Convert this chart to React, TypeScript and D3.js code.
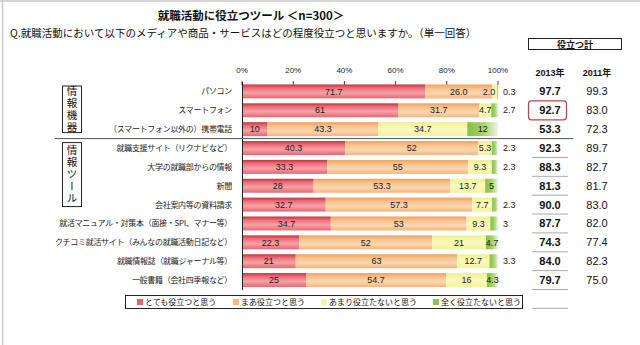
import React from 'react';
import * as d3 from 'd3';

const categories = [
  'パソコン',
  'スマートフォン',
  '（スマートフォン以外の）携帯電話',
  '就職支援サイト（リクナビなど）',
  '大学の就職部からの情報',
  '新聞',
  '会社案内等の資料請求',
  '就活マニュアル・対策本（面接・SPI、マナー等）',
  'クチコミ就活サイト（みんなの就職活動日記など）',
  '就職情報誌（就職ジャーナル等）',
  '一般書籍（会社四季報など）',
];

const veryUseful = ['71.7', '61', '10', '40.3', '33.3', '28', '32.7', '34.7', '22.3', '21', '25'];
const somewhatUseful = ['26.0', '31.7', '43.3', '52', '55', '53.3', '57.3', '53', '52', '63', '54.7'];
const notVeryUseful = ['2.0', '4.7', '34.7', '5.3', '9.3', '13.7', '7.7', '9.3', '21', '12.7', '16'];
const notAtAllUseful = ['0.3', '2.7', '12', '2.3', '2.3', '5', '2.3', '3', '4.7', '3.3', '4.3'];

const total2013 = ['97.7', '92.7', '53.3', '92.3', '88.3', '81.3', '90.0', '87.7', '74.3', '84.0', '79.7'];
const total2011 = ['99.3', '83.0', '72.3', '89.7', '82.7', '81.7', '83.0', '82.0', '77.4', '82.3', '75.0'];

const tickValues = [0, 20, 40, 60, 80, 100];
const tickLabels = ['0%', '20%', '40%', '60%', '80%', '100%'];

const seriesNames = ['とても役立つと思う', 'まあ役立つと思う', 'あまり役立たないと思う', '全く役立たないと思う'];
const seriesKeys = ['s0', 's1', 's2', 's3'];

const groupNames = ['情報機器', '情報ツール'];
const groupStart = [0, 3];
const groupEnd = [2, 10];

const highlightIndex = 1;

const W = 640;
const H = 345;
const FONT = "'Noto Sans CJK JP', 'Noto Sans', sans-serif";
const NUMFONT = "'Liberation Sans', Arial, sans-serif";

export default function App() {
  const x = d3.scaleLinear().domain([0, 100]).range([242, 498]);
  const y = d3
    .scaleBand<string>()
    .domain(categories)
    .range([82, 289.5])
    .paddingInner(0.26)
    .paddingOuter(0.13);
  const step = y.step();
  const bw = y.bandwidth();

  const rows = categories.map((c, i) => ({
    cat: c,
    s0: +veryUseful[i],
    s1: +somewhatUseful[i],
    s2: +notVeryUseful[i],
    s3: +notAtAllUseful[i],
    l0: veryUseful[i],
    l1: somewhatUseful[i],
    l2: notVeryUseful[i],
    l3: notAtAllUseful[i],
  }));
  const stack = d3.stack<any>().keys(seriesKeys);
  const series = stack(rows as any);

  const fills = ['url(#gRed)', 'url(#gOrange)', 'url(#gYellow)', 'url(#gGreen)'];
  const legendColors = ['#E8606A', '#F6B97E', '#F4F4A8', '#8CC63F'];

  const rowCenter = (i: number) => (y(categories[i]) as number) + bw / 2;
  const bandTop = (i: number) => (y(categories[i]) as number) - (step - bw) / 2;
  const bandBottom = (i: number) => bandTop(i) + step;

  const sepY = bandBottom(2);
  const col2013 = 550;
  const col2011 = 597;

  // legend layout (sequential)
  const legFont = 8;
  let lx = 137;
  const legendItems = seriesNames.map((n, i) => {
    const item = { x: lx, name: n, color: legendColors[i] };
    lx += 6 + n.length * legFont + 18;
    return item;
  });

  return (
    <svg
      width={W}
      height={H}
      style={{ position: 'absolute', left: 0, top: 0, background: '#fff' }}
      fontFamily={FONT}
    >
      <defs>
        <linearGradient id="gRed" x1="0" y1="0" x2="0" y2="1">
          <stop offset="0" stopColor="#C8303C" />
          <stop offset="0.25" stopColor="#EC6E78" />
          <stop offset="0.6" stopColor="#F6A2A8" />
          <stop offset="1" stopColor="#E46870" />
        </linearGradient>
        <linearGradient id="gOrange" x1="0" y1="0" x2="0" y2="1">
          <stop offset="0" stopColor="#EFA060" />
          <stop offset="0.3" stopColor="#F8C490" />
          <stop offset="0.65" stopColor="#FBD6B0" />
          <stop offset="1" stopColor="#F4B47C" />
        </linearGradient>
        <linearGradient id="gYellow" x1="0" y1="0" x2="0" y2="1">
          <stop offset="0" stopColor="#F0F090" />
          <stop offset="0.5" stopColor="#FAFAC0" />
          <stop offset="1" stopColor="#F2F2A0" />
        </linearGradient>
        <linearGradient id="gGreen" x1="0" y1="0" x2="1" y2="0">
          <stop offset="0" stopColor="#86C040" />
          <stop offset="0.55" stopColor="#A8D470" />
          <stop offset="1" stopColor="#EEF6E2" />
        </linearGradient>
      </defs>

      {/* frame */}
      <line x1={2.5} y1={0} x2={2.5} y2={H} stroke="#c8c8c8" strokeWidth={1.5} />
      <line x1={0} y1={1} x2={W} y2={1} stroke="#c8c8c8" strokeWidth={1.5} />

      {/* titles */}
      <text x={251} y={20} textAnchor="middle" fontSize={11.5} fontWeight="bold" fill="#111">
        就職活動に役立つツール ＜n=300＞
      </text>
      <text x={10} y={37} fontSize={10.5} fill="#111">
        Q.就職活動において以下のメディアや商品・サービスはどの程度役立つと思いますか。（単一回答）
      </text>

      {/* 役立つ計 box */}
      <rect x={528.5} y={38.5} width={93} height={11} fill="#fff" stroke="#222" strokeWidth={1} />
      <text x={575} y={47.5} textAnchor="middle" fontSize={9} fontWeight="bold" fill="#111">
        役立つ計
      </text>

      {/* column headers */}
      <text x={col2013} y={76} textAnchor="middle" fontSize={9} fontWeight="bold" fontFamily={NUMFONT} fill="#111">
        2013<tspan fontFamily={FONT}>年</tspan>
      </text>
      <text x={col2011} y={76} textAnchor="middle" fontSize={9} fontWeight="bold" fontFamily={NUMFONT} fill="#111">
        2011<tspan fontFamily={FONT}>年</tspan>
      </text>

      {/* axis tick labels */}
      {tickValues.map((t, i) => (
        <g key={t}>
          <text x={x(t)} y={73} textAnchor="middle" fontSize={8} fontFamily={NUMFONT} fill="#222">
            {tickLabels[i]}
          </text>
          <line x1={x(t)} x2={x(t)} y1={81} y2={85} stroke="#444" strokeWidth={1} />
        </g>
      ))}

      {/* bars */}
      {series.map((s, si) => (
        <g key={si}>
          {s.map((d, i) => (
            <rect
              key={i}
              x={x(d[0])}
              y={y(categories[i]) as number}
              width={Math.max(0, x(d[1]) - x(d[0]))}
              height={bw}
              fill={fills[si]}
            />
          ))}
        </g>
      ))}

      {/* bar labels */}
      {series.map((s, si) => (
        <g key={'l' + si}>
          {s.map((d, i) => {
            const row: any = rows[i];
            const label = row['l' + si];
            const v = row['s' + si];
            const outside = si === 3 && v < 3.5;
            const narrow = si === 2 && v < 3;
            let lxp = (x(d[0]) + x(d[1])) / 2;
            let anchor = 'middle';
            if (outside) {
              lxp = x(100) + 5;
              anchor = 'start';
            } else if (narrow) {
              lxp = x(d[1]) - 2;
              anchor = 'end';
            }
            return (
              <text
                key={i}
                x={lxp}
                y={rowCenter(i) + 3.2}
                textAnchor={anchor}
                fontSize={9}
                fontFamily={NUMFONT}
                fill="#222"
              >
                {label}
              </text>
            );
          })}
        </g>
      ))}

      {/* vertical axis */}
      <line x1={x(0) + 0.5} x2={x(0) + 0.5} y1={82} y2={290} stroke="#222" strokeWidth={1} />

      {/* category labels */}
      {categories.map((c, i) => (
        <text
          key={c}
          x={232}
          y={rowCenter(i) + 3}
          textAnchor="end"
          fontSize={8}
          letterSpacing={-0.3}
          fill="#222"
        >
          {c}
        </text>
      ))}

      {/* separator */}
      <line x1={55} x2={573} y1={sepY} y2={sepY} stroke="#555" strokeWidth={1} />

      {/* group boxes */}
      {groupNames.map((g, gi) => {
        const n = Array.from(g).length;
        const top = bandTop(groupStart[gi]) + 4;
        const bottom = gi === 0 ? bandBottom(groupEnd[gi]) - 6 : top + n * 12 + 4;
        const h = bottom - top;
        return (
          <g key={g}>
            <rect x={62.5} y={top} width={19} height={h} fill="#fff" stroke="#222" strokeWidth={1} />
            <text
              x={72}
              y={top + h / 2}
              textAnchor="middle"
              fontSize={10.5}
              letterSpacing={1.5}
              fill="#111"
              style={{ writingMode: 'vertical-rl' as any }}
            >
              {g}
            </text>
          </g>
        );
      })}

      {/* totals */}
      {categories.map((c, i) => (
        <g key={'t' + i}>
          <text
            x={col2013}
            y={rowCenter(i) + 4}
            textAnchor="middle"
            fontSize={11}
            fontWeight="bold"
            fontFamily={NUMFONT}
            fill="#111"
          >
            {total2013[i]}
          </text>
          <text
            x={col2011}
            y={rowCenter(i) + 4}
            textAnchor="middle"
            fontSize={11}
            fontFamily={NUMFONT}
            fill="#111"
          >
            {total2011[i]}
          </text>
          {i >= 3 && (
            <line x1={532} x2={568} y1={bandBottom(i)} y2={bandBottom(i)} stroke="#aaa" strokeWidth={1} />
          )}
        </g>
      ))}
      <line
        x1={532}
        x2={568}
        y1={bandBottom(categories.length - 1) + step}
        y2={bandBottom(categories.length - 1) + step}
        stroke="#aaa"
        strokeWidth={1}
      />

      {/* highlight */}
      <rect
        x={528.5}
        y={rowCenter(highlightIndex) - 9.5}
        width={38}
        height={19}
        rx={3}
        fill="none"
        stroke="#C0404A"
        strokeWidth={1.2}
      />

      {/* legend */}
      <rect x={125.5} y={295.5} width={397} height={13} fill="#fff" stroke="#222" strokeWidth={1} />
      {legendItems.map((it, i) => (
        <g key={i}>
          <rect x={it.x} y={299} width={6} height={6} fill={it.color} />
          <text x={it.x + 8} y={305} fontSize={legFont} fill="#111">
            {it.name}
          </text>
        </g>
      ))}
    </svg>
  );
}
